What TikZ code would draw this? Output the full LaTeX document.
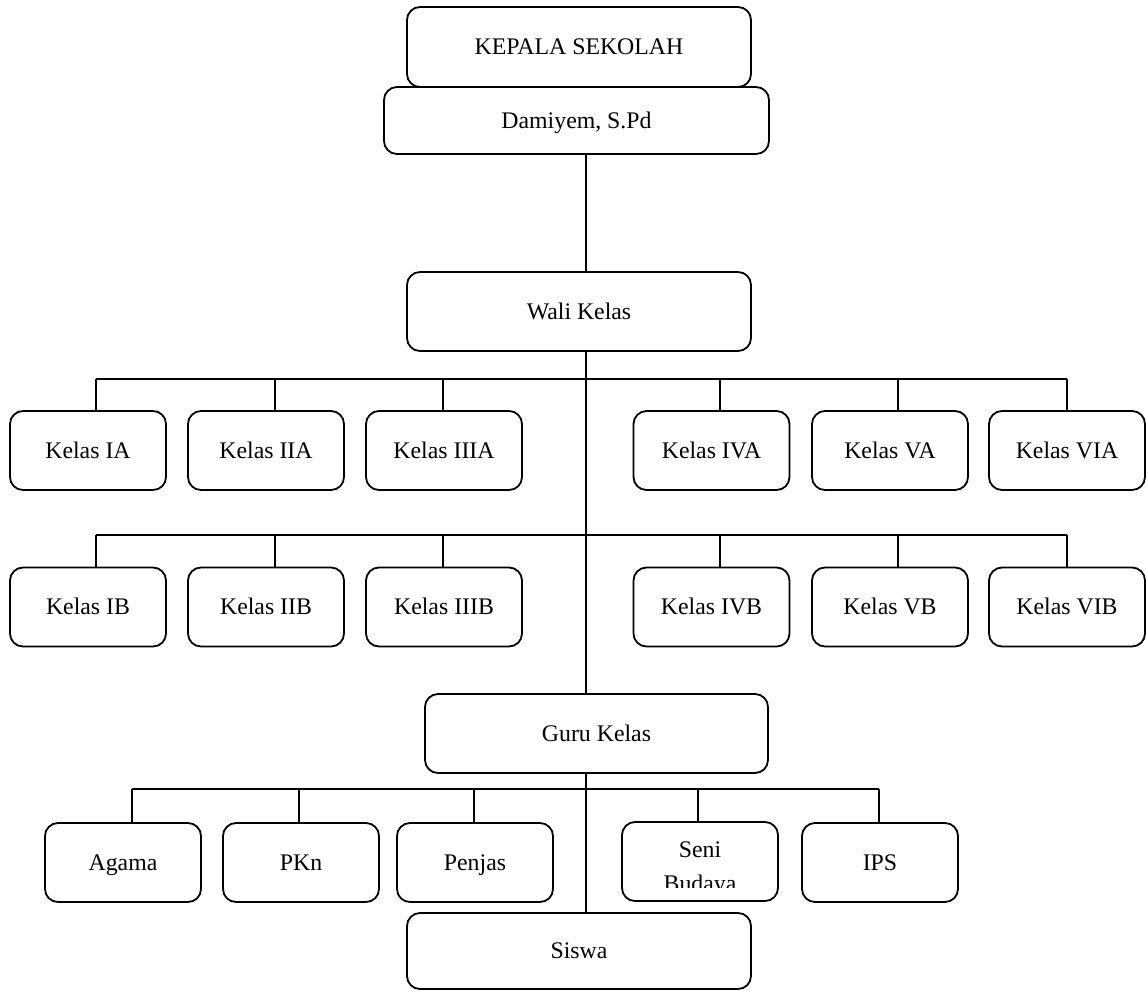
\documentclass[tikz,border=0pt]{standalone}
\usepackage{fontspec}
\setmainfont{Liberation Serif}

\begin{document}
\begin{tikzpicture}[x=1pt, y=-1pt, line width=1.8pt,
  box/.style={draw, rounded corners=13pt, minimum width=156pt, minimum height=79pt, inner sep=0pt, text height=15.8pt, text depth=0pt, font=\fontsize{23.8}{34}\selectfont},
  wide/.style={box, minimum width=344pt},
  txt/.style={anchor=base, inner sep=0pt, font=\fontsize{23.8}{34}\selectfont}]
\useasboundingbox (0,0) rectangle (1146,991);

%head
\node[wide, minimum height=80pt] (kepala) at (579,47) {KEPALA SEKOLAH};
\node[wide, minimum width=385pt, minimum height=67pt] (kepsek) at (576.5,120.5) {Damiyem, S.Pd};
\node[wide] (wali) at (579,311.5) {Wali Kelas};
\node[wide, minimum width=343pt] (guru) at (596.5,733.5) {Guru Kelas};
\node[wide, minimum height=76pt] (siswa) at (579,951) {Siswa};

%spine
\coordinate (spine) at (586,0);
\draw (kepsek.south -| spine) -- (wali.north -| spine);
\draw (wali.south -| spine) -- (guru.north -| spine);
\draw (guru.south -| spine) -- (siswa.north -| spine);

%kelas A
\foreach \n/\x in {IA/88, IIA/266, IIIA/444, IVA/711.5, VA/890, VIA/1067}{\node[box] (\n) at (\x,450.5) {Kelas \n};}
\draw (96,379) -- (1067,379);
\foreach \n/\d in {IA/96, IIA/275, IIIA/443, IVA/720, VA/898, VIA/1067}{\draw (\d,379) -- (\d,0 |- \n.north);}

%kelas B
\foreach \n/\x in {IB/88, IIB/266, IIIB/444, IVB/711.5, VB/890, VIB/1067}{\node[box] (\n) at (\x,607) {Kelas \n};}
\draw (96,535) -- (1067,535);
\foreach \n/\d in {IB/96, IIB/275, IIIB/443, IVB/720, VB/898, VIB/1067}{\draw (\d,535) -- (\d,0 |- \n.north);}

%mata pelajaran
\foreach \n/\t/\x in {agama/Agama/123, pkn/PKn/301, penjas/Penjas/475, ips/IPS/880}{\node[box] (\n) at (\x,862.5) {\t};}
\node[box] (seni) at (700,861.5) {};
\begin{scope}
\clip (622,822) rectangle (778,887);
\node[txt] (seni1) at (700,857) {Seni};
\node[txt] (seni2) at (700,891) {Budaya};
\end{scope}
\draw (132,789) -- (879,789);
\foreach \n/\d in {agama/132, pkn/299, penjas/474, seni/698, ips/879}{\draw (\d,789) -- (\d,0 |- \n.north);}
\end{tikzpicture}
\end{document}
